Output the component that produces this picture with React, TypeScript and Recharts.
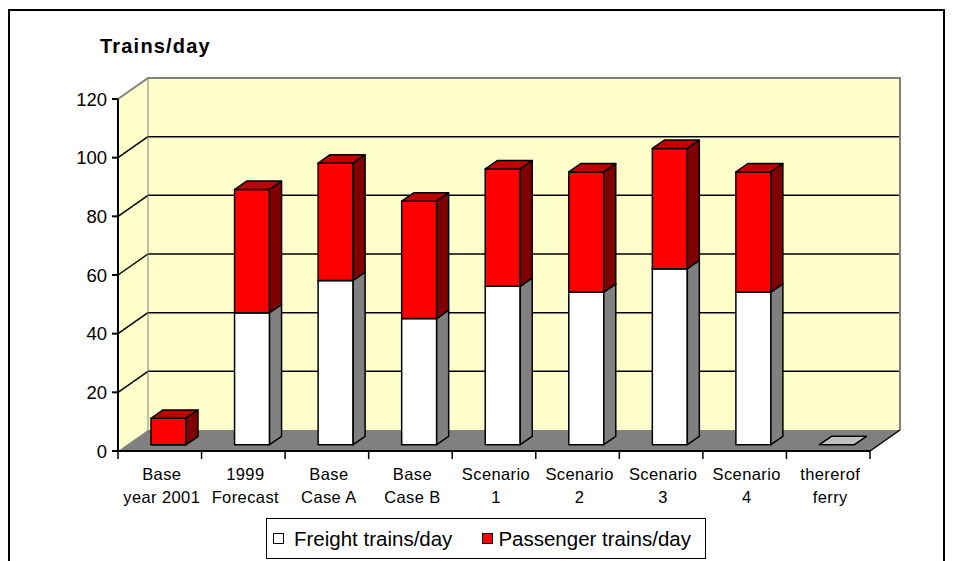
import React from 'react';
import { BarChart, Bar, XAxis, YAxis, ReferenceArea } from 'recharts';

// categories (line break = second label line)
const categories = [
  'Base\nyear 2001',
  '1999\nForecast',
  'Base\nCase A',
  'Base\nCase B',
  'Scenario\n1',
  'Scenario\n2',
  'Scenario\n3',
  'Scenario\n4',
  'thererof\nferry',
];
const freightTrains = [0, 45, 56, 43, 54, 52, 60, 52, 0];
const passengerTrains = [9, 42, 40, 40, 40, 41, 41, 41, 0];
const yTicks = [0, 20, 40, 60, 80, 100, 120];

const data = categories.map((name, i) => ({
  name,
  freight: freightTrains[i],
  passenger: passengerTrains[i],
}));

const FONT = 'Arial, "Liberation Sans", sans-serif';
const WALL = '#FFFFCC';
const FLOOR = '#808080';

// 3D depth of the whole plot, and where the bars sit inside it
const DEPTH_X = 30;
const DEPTH_Y = -21;
const BAR_FRONT = 0.3;
const BAR_DEPTH = 0.4;

const Walls = (props: any) => {
  const { x, y, width, height } = props;
  if (width == null) return null;
  const bottom = y + height;
  const yMax = yTicks[yTicks.length - 1];
  const toY = (v: number) => y + height * (1 - v / yMax);
  const n = categories.length;
  return (
    <g>
      {/* left side wall */}
      <polygon
        points={`${x},${y} ${x + DEPTH_X},${y + DEPTH_Y} ${x + DEPTH_X},${bottom + DEPTH_Y} ${x},${bottom}`}
        fill={WALL}
      />
      {/* back wall */}
      <rect x={x + DEPTH_X} y={y + DEPTH_Y} width={width} height={height} fill={WALL} />
      {/* floor */}
      <polygon
        points={`${x},${bottom} ${x + DEPTH_X},${bottom + DEPTH_Y} ${x + width + DEPTH_X},${bottom + DEPTH_Y} ${x + width},${bottom}`}
        fill={FLOOR}
      />
      {yTicks
        .filter((v) => v > 0 && v < yMax)
        .map((v) => (
          <g key={v}>
            <line x1={x} y1={toY(v)} x2={x + DEPTH_X} y2={toY(v) + DEPTH_Y} stroke="#000" strokeWidth={1.5} />
            <line
              x1={x + DEPTH_X}
              y1={toY(v) + DEPTH_Y}
              x2={x + width + DEPTH_X}
              y2={toY(v) + DEPTH_Y}
              stroke="#000"
              strokeWidth={1.5}
            />
          </g>
        ))}
      {/* wall borders */}
      <polyline
        points={`${x},${y} ${x + DEPTH_X},${y + DEPTH_Y} ${x + width + DEPTH_X},${y + DEPTH_Y} ${x + width + DEPTH_X},${bottom + DEPTH_Y}`}
        fill="none"
        stroke="#808080"
        strokeWidth={2}
      />
      <line x1={x + DEPTH_X} y1={y + DEPTH_Y} x2={x + DEPTH_X} y2={bottom + DEPTH_Y} stroke="#808080" strokeWidth={1} />
      <line
        x1={x + width}
        y1={bottom}
        x2={x + width + DEPTH_X}
        y2={bottom + DEPTH_Y}
        stroke="#000"
        strokeWidth={1.5}
      />
      {/* category boundary ticks */}
      {Array.from({ length: n + 1 }, (_, i) => (
        <line
          key={i}
          x1={x + (width * i) / n}
          y1={bottom}
          x2={x + (width * i) / n}
          y2={bottom + 8}
          stroke="#000"
          strokeWidth={1.5}
        />
      ))}
    </g>
  );
};

const makeBox = (front: string, side: string, top: string, key: 'freight' | 'passenger') => (props: any) => {
  const { x, y, width, height, payload } = props;
  if (x == null || width == null) return null;
  if (key === 'passenger' && !payload?.passenger) return null;
  const h = Math.max(height || 0, 0);
  const fx = x + DEPTH_X * BAR_FRONT;
  const fy = y + DEPTH_Y * BAR_FRONT;
  const dx = DEPTH_X * BAR_DEPTH;
  const dy = DEPTH_Y * BAR_DEPTH;
  return (
    <g stroke="#000" strokeWidth={1.5} strokeLinejoin="round">
      {h > 0 && <rect x={fx} y={fy} width={width} height={h} fill={front} />}
      <polygon
        points={`${fx},${fy} ${fx + dx},${fy + dy} ${fx + width + dx},${fy + dy} ${fx + width},${fy}`}
        fill={top}
      />
      {h > 0 && (
        <polygon
          points={`${fx + width},${fy} ${fx + width + dx},${fy + dy} ${fx + width + dx},${fy + h + dy} ${fx + width},${fy + h}`}
          fill={side}
        />
      )}
    </g>
  );
};

const FreightBox = makeBox('#FFFFFF', '#808080', '#C0C0C0', 'freight');
const PassengerBox = makeBox('#FF0000', '#800000', '#C00000', 'passenger');

const CategoryTick = ({ x, y, payload }: any) => {
  const lines = String(payload.value).split('\n');
  return (
    <text
      x={x + 2}
      y={y}
      textAnchor="middle"
      fontSize={16.5}
      letterSpacing={0.4}
      fontFamily={FONT}
      fill="#000"
    >
      {lines.map((l, i) => (
        <tspan key={i} x={x + 2} dy={i === 0 ? 21 : 23}>
          {l}
        </tspan>
      ))}
    </text>
  );
};

const LegendMarker = ({ color }: { color: string }) => (
  <span
    style={{
      display: 'inline-block',
      width: 11,
      height: 11,
      boxSizing: 'border-box',
      border: '1.5px solid #000',
      background: color,
    }}
  />
);

export default function App() {
  return (
    <div
      style={{
        position: 'absolute',
        left: 0,
        top: 0,
        width: 957,
        height: 561,
        overflow: 'hidden',
        background: '#fff',
        fontFamily: FONT,
      }}
    >
      <div
        style={{
          position: 'absolute',
          left: 8,
          top: 9,
          width: 937,
          height: 700,
          boxSizing: 'border-box',
          border: '2px solid #000',
        }}
      />
      <div
        style={{
          position: 'absolute',
          left: 100,
          top: 36,
          fontSize: 20,
          lineHeight: 1,
          fontWeight: 'bold',
          letterSpacing: 1.2,
        }}
      >
        Trains/day
      </div>
      <div style={{ position: 'absolute', left: 0, top: 0 }}>
        <BarChart width={957} height={561} data={data} margin={{ top: 99, right: 87, bottom: 50, left: 58 }}>
          <ReferenceArea y1={0} y2={120} shape={(p: any) => <Walls {...p} />} ifOverflow="visible" />
          <XAxis
            dataKey="name"
            height={60}
            tickLine={false}
            tickSize={8}
            tickMargin={0}
            interval={0}
            axisLine={{ stroke: '#000', strokeWidth: 2 }}
            tick={<CategoryTick />}
          />
          <YAxis
            width={60}
            domain={[0, 120]}
            ticks={yTicks}
            interval={0}
            tickSize={6}
            tickMargin={5}
            axisLine={{ stroke: '#000', strokeWidth: 2 }}
            tickLine={{ stroke: '#000', strokeWidth: 2 }}
            tick={{ fill: '#000', fontSize: 18.5, fontFamily: FONT }}
          />
          <Bar dataKey="freight" stackId="a" barSize={35} shape={FreightBox} isAnimationActive={false} />
          <Bar dataKey="passenger" stackId="a" barSize={35} shape={PassengerBox} isAnimationActive={false} />
        </BarChart>
      </div>
      <div
        style={{
          position: 'absolute',
          left: 266,
          top: 518,
          width: 440,
          height: 41,
          boxSizing: 'border-box',
          border: '1.5px solid #000',
          display: 'flex',
          alignItems: 'center',
          paddingLeft: 6,
          fontSize: 20.5,
          whiteSpace: 'nowrap',
        }}
      >
        <LegendMarker color="#FFFFFF" />
        <span style={{ marginLeft: 10, marginRight: 30 }}>Freight trains/day</span>
        <LegendMarker color="#FF0000" />
        <span style={{ marginLeft: 5 }}>Passenger trains/day</span>
      </div>
    </div>
  );
}
